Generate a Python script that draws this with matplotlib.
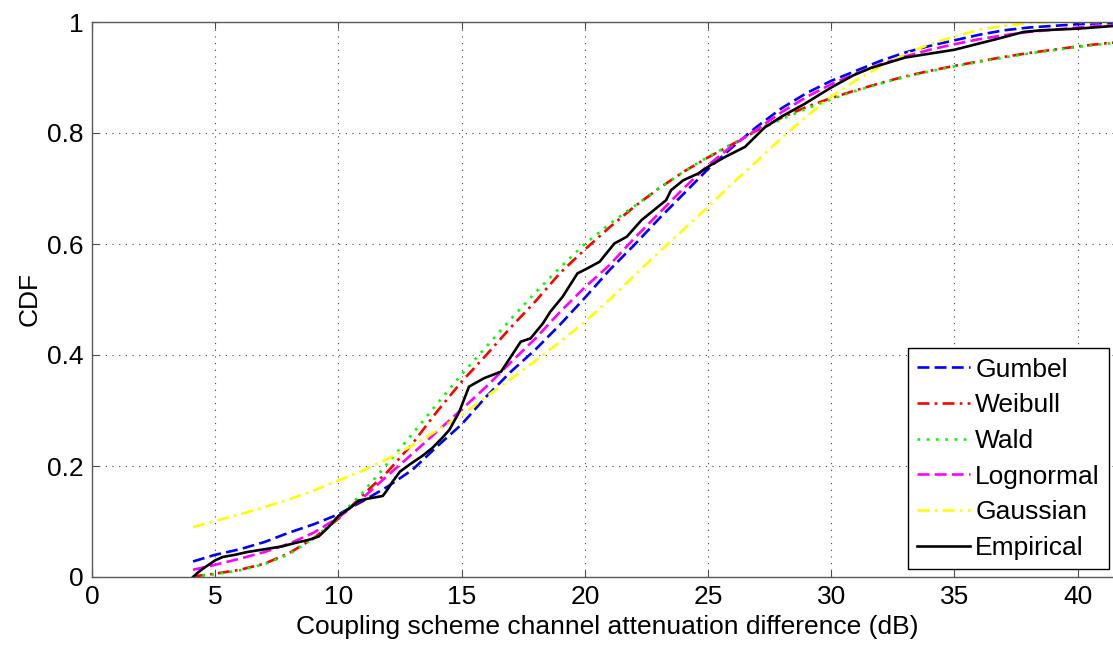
import numpy as np
import matplotlib
matplotlib.use('Agg')
from matplotlib import pyplot as plt

# x grid shared by the fitted CDF curves (dB)
fit_x = [4.1, 5, 6, 7, 8, 9, 10, 11, 12, 13, 14, 15, 16, 17, 18, 19, 20, 21, 22,
         23, 24, 25, 26, 27, 28, 29, 30, 31, 32, 33, 34, 35, 36, 37, 38, 39, 40, 41, 42]

gumbel = [0.028, 0.040, 0.050, 0.063, 0.080, 0.095, 0.113, 0.137, 0.163, 0.193, 0.235,
          0.275, 0.325, 0.370, 0.410, 0.455, 0.503, 0.553, 0.598, 0.645, 0.690, 0.735,
          0.775, 0.812, 0.845, 0.872, 0.894, 0.912, 0.930, 0.945, 0.957, 0.967, 0.977,
          0.985, 0.990, 0.993, 0.996, 0.998, 0.999]

weibull = [0.001, 0.006, 0.013, 0.024, 0.043, 0.070, 0.105, 0.148, 0.190, 0.240, 0.298,
           0.352, 0.400, 0.450, 0.497, 0.548, 0.590, 0.630, 0.667, 0.700, 0.730, 0.756,
           0.780, 0.805, 0.828, 0.847, 0.863, 0.877, 0.890, 0.902, 0.912, 0.921, 0.929,
           0.937, 0.944, 0.950, 0.956, 0.961, 0.965]

wald = [0.001, 0.005, 0.012, 0.023, 0.041, 0.070, 0.108, 0.153, 0.205, 0.258, 0.312,
        0.365, 0.415, 0.465, 0.513, 0.558, 0.600, 0.636, 0.668, 0.700, 0.730, 0.757,
        0.781, 0.804, 0.825, 0.844, 0.861, 0.876, 0.889, 0.901, 0.911, 0.920, 0.928,
        0.936, 0.943, 0.949, 0.955, 0.960, 0.965]

lognormal = [0.013, 0.022, 0.033, 0.045, 0.060, 0.080, 0.107, 0.143, 0.183, 0.222, 0.262,
             0.302, 0.343, 0.387, 0.430, 0.478, 0.522, 0.562, 0.610, 0.655, 0.700, 0.742,
             0.778, 0.807, 0.838, 0.865, 0.888, 0.907, 0.924, 0.938, 0.950, 0.960, 0.969,
             0.976, 0.982, 0.986, 0.990, 0.993, 0.995]

gaussian = [0.090, 0.101, 0.113, 0.126, 0.140, 0.156, 0.174, 0.192, 0.213, 0.237, 0.264,
            0.292, 0.325, 0.357, 0.390, 0.424, 0.460, 0.500, 0.543, 0.585, 0.626, 0.667,
            0.710, 0.750, 0.792, 0.830, 0.866, 0.895, 0.920, 0.942, 0.960, 0.974, 0.986,
            0.993, 0.998, 1.000, 1.000, 1.000, 1.000]

# empirical CDF
emp_x = [4.1, 4.3, 4.5, 4.8, 5.0, 5.3, 5.8, 6.3, 7.0, 7.7, 8.3, 8.8, 9.2, 9.6, 10.0,
         10.4, 10.85, 11.3, 11.8, 12.0, 12.2, 12.5, 12.9, 13.4, 13.8, 14.2, 14.5, 14.9,
         15.3, 15.9, 16.6, 17.0, 17.4, 17.8, 18.3, 18.6, 19.1, 19.7, 20.1, 20.6, 21.2,
         21.7, 22.3, 22.8, 23.3, 23.5, 24.0, 24.6, 25.1, 25.7, 26.5, 27.3, 28.0, 28.9,
         30.0, 30.9, 31.6, 33.0, 35.0, 36.6, 37.8, 38.5, 40.0, 41.8]
emp_y = [0.000, 0.008, 0.015, 0.024, 0.030, 0.036, 0.040, 0.045, 0.050, 0.055, 0.062,
         0.067, 0.073, 0.090, 0.110, 0.122, 0.138, 0.142, 0.146, 0.158, 0.172, 0.190,
         0.203, 0.218, 0.232, 0.250, 0.265, 0.297, 0.343, 0.358, 0.370, 0.397, 0.424,
         0.430, 0.457, 0.478, 0.505, 0.547, 0.556, 0.568, 0.601, 0.613, 0.643, 0.661,
         0.679, 0.697, 0.715, 0.727, 0.742, 0.757, 0.775, 0.810, 0.830, 0.852, 0.882,
         0.904, 0.917, 0.936, 0.950, 0.968, 0.982, 0.985, 0.988, 0.994]

plt.rcParams['font.family'] = ['Liberation Sans', 'DejaVu Sans']
plt.rcParams['font.size'] = 19

fig = plt.figure(figsize=(11.13, 6.45), dpi=100)
ax = fig.add_axes([92 / 1113, 68 / 645, 1030 / 1113, 555 / 645])

lw = 1.9
dash = (0, (4.5, 2))
dashdot = (0, (4.5, 2, 1, 2))
ax.plot(fit_x, gumbel, color='#0000ff', lw=lw, ls=dash, label='Gumbel')
ax.plot(fit_x, weibull, color='#ff0000', lw=lw, ls=dashdot, label='Weibull')
ax.plot(fit_x, wald, color='#00ff00', lw=lw, ls=(0, (1, 2.5)), label='Wald')
ax.plot(fit_x, lognormal, color='#ff00ff', lw=lw, ls=dash, label='Lognormal')
ax.plot(fit_x, gaussian, color='#ffff00', lw=lw, ls=dashdot, label='Gaussian')
ax.plot(emp_x, emp_y, color='black', lw=lw, label='Empirical')

ax.set_xlim(0, 41.8)
ax.set_ylim(0, 1)
ax.set_xticks(range(0, 45, 5))
ax.set_yticks([0, 0.2, 0.4, 0.6, 0.8, 1])
ax.set_yticklabels(['0', '0.2', '0.4', '0.6', '0.8', '1'])
ax.grid(True, color='0.25', ls=(0, (1, 5)), lw=0.8)
ax.tick_params(direction='in', length=5, top=True, right=True, color='0.3', pad=6)
for s in ax.spines.values():
    s.set_color('0.35')
    s.set_linewidth(1)

ax.set_xlabel('Coupling scheme channel attenuation difference (dB)', labelpad=4)
ax.set_ylabel('CDF', labelpad=4)

leg = ax.legend(loc='lower left', bbox_to_anchor=((908 - 92) / 1030, 8 / 555),
                borderaxespad=0, fancybox=False, framealpha=1, edgecolor='black',
                handlelength=2.0, handletextpad=0.2, labelspacing=0.44, borderpad=0.35)
leg.get_frame().set_linewidth(1)

fig.savefig('out.png', dpi=100)
